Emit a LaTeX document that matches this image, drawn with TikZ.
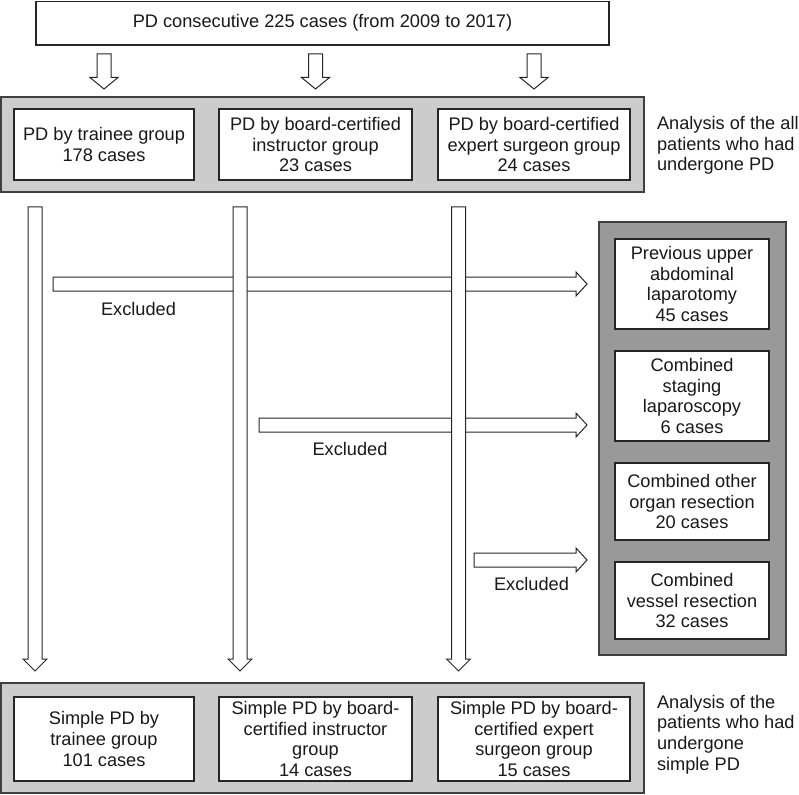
\documentclass[tikz,border=0pt]{standalone}
\usepackage{fontspec}
\setmainfont{Liberation Sans}
\usetikzlibrary{calc}
\tikzset{
  darrow/.style n args={3}{to path={let \p1=(\tikztostart), \p2=(\tikztotarget) in
     (\x1-#1pt,\y1) -- (\x1+#1pt,\y1) -- (\x1+#1pt,\y2+#3pt) -- (\x1+#2pt,\y2+#3pt)
     -- (\x1,\y2) -- (\x1-#2pt,\y2+#3pt) -- (\x1-#1pt,\y2+#3pt) -- cycle}},
  rarrow/.style n args={3}{to path={let \p1=(\tikztostart), \p2=(\tikztotarget) in
     (\x1,\y1+#1pt) -- (\x2-#3pt,\y1+#1pt) -- (\x2-#3pt,\y1+#2pt) -- (\x2,\y1)
     -- (\x2-#3pt,\y1-#2pt) -- (\x2-#3pt,\y1-#1pt) -- (\x1,\y1-#1pt) -- cycle}},
}
\begin{document}
\begin{tikzpicture}[x=1pt,y=-1pt,
  every node/.style={inner sep=0pt, outer sep=0pt, text=black!90, font=\fontsize{18.2}{20.6}\selectfont},
  panel/.style={draw=black!75, line width=1.4pt, fill=#1},
  box/.style={draw=black!85, line width=1.3pt, fill=white, align=center},
  blk/.style={draw=black!85, line width=1pt, fill=white, line join=miter},
  note/.style={anchor=west, align=left},
]
\useasboundingbox (0,0) rectangle (799,794);

% panels
\node[panel=black!20, minimum width=643.2, minimum height=95] (p1) at (322.4,144.5) {};
\node[panel=black!20, minimum width=643.2, minimum height=110] (p3) at (322.4,738) {};
\node[panel=black!40, minimum width=187, minimum height=433] (p2) at (692.5,438.5) {};

% top box
\node[box, minimum width=573, minimum height=43.8] (top) at (322.5,23.1) {PD consecutive 225 cases (from 2009 to 2017)};

% first row
\node[box, minimum width=180, minimum height=71] (b1) at (104,144.5) {PD by trainee group\\178 cases};
\node[box, minimum width=193, minimum height=71] (b2) at (315.5,144.5) {PD by board-certified\\instructor group\\23 cases};
\node[box, minimum width=192, minimum height=71] (b3) at (534,144.5) {PD by board-certified\\expert surgeon group\\24 cases};
\node[note] (n1) at (657,145.5) {Analysis of the all\\patients who had\\undergone PD};

% excluded boxes
\node[box, minimum width=154, minimum height=90] (e1) at (692,284) {Previous upper\\abdominal\\laparotomy\\45 cases};
\node[box, minimum width=154, minimum height=90] (e2) at (692,396) {Combined\\staging\\laparoscopy\\6 cases};
\node[box, minimum width=154, minimum height=77] (e3) at (692,501.5) {Combined other\\organ resection\\20 cases};
\node[box, minimum width=154, minimum height=77] (e4) at (692,600.5) {Combined\\vessel resection\\32 cases};

% bottom row
\node[box, minimum width=180, minimum height=84] (c1) at (104,739) {Simple PD by\\trainee group\\101 cases};
\node[box, minimum width=193, minimum height=84] (c2) at (315.5,739) {Simple PD by board-\\certified instructor\\group\\14 cases};
\node[box, minimum width=192, minimum height=84] (c3) at (534,739) {Simple PD by board-\\certified expert\\surgeon group\\15 cases};
\node[note] (n2) at (657,734.5) {Analysis of the\\patients who had\\undergone\\simple PD};

% short arrows
\coordinate (s1a) at ($(b1.center |- top.south)+(0,9)$);
\coordinate (s1b) at ($(b1.center |- p1.north)+(0,-8)$);
\coordinate (s2a) at ($(b2.center |- top.south)+(0,9)$);
\coordinate (s2b) at ($(b2.center |- p1.north)+(0,-8)$);
\coordinate (s3a) at ($(b3.center |- top.south)+(0,9)$);
\coordinate (s3b) at ($(b3.center |- p1.north)+(0,-8)$);
\draw[blk] (s1a) to[darrow={7}{14}{11.5}] (s1b);
\draw[blk] (s2a) to[darrow={7}{14}{11.5}] (s2b);
\draw[blk] (s3a) to[darrow={7}{14}{11.5}] (s3b);

% horizontal exclusion arrows
\coordinate (h1a) at (53,284);
\coordinate (h2a) at (259,425);
\coordinate (h3a) at (474,560);
\coordinate (h1b) at ($(p2.west |- h1a)+(-12,0)$);
\coordinate (h2b) at ($(p2.west |- h2a)+(-12,0)$);
\coordinate (h3b) at ($(p2.west |- h3a)+(-12,0)$);
\draw[blk] (h1a) to[rarrow={7}{12}{11}] (h1b);
\draw[blk] (h2a) to[rarrow={7}{12}{11}] (h2b);
\draw[blk] (h3a) to[rarrow={7}{12}{11}] (h3b);
\node (x1) at (138.5,309) {Excluded};
\node (x2) at (350,449) {Excluded};
\node (x3) at (531.5,584) {Excluded};

% long vertical arrows
\coordinate (v1a) at ($(35,0 |- p1.south)+(0,15)$);
\coordinate (v1b) at ($(35,0 |- p3.north)+(0,-12)$);
\coordinate (v2a) at ($(240,0 |- p1.south)+(0,15)$);
\coordinate (v2b) at ($(240,0 |- p3.north)+(0,-12)$);
\coordinate (v3a) at ($(458.5,0 |- p1.south)+(0,15)$);
\coordinate (v3b) at ($(458.5,0 |- p3.north)+(0,-12)$);
\draw[blk] (v1a) to[darrow={7}{12}{12}] (v1b);
\draw[blk] (v2a) to[darrow={7}{12}{12}] (v2b);
\draw[blk] (v3a) to[darrow={7}{12}{12}] (v3b);
\end{tikzpicture}
\end{document}
